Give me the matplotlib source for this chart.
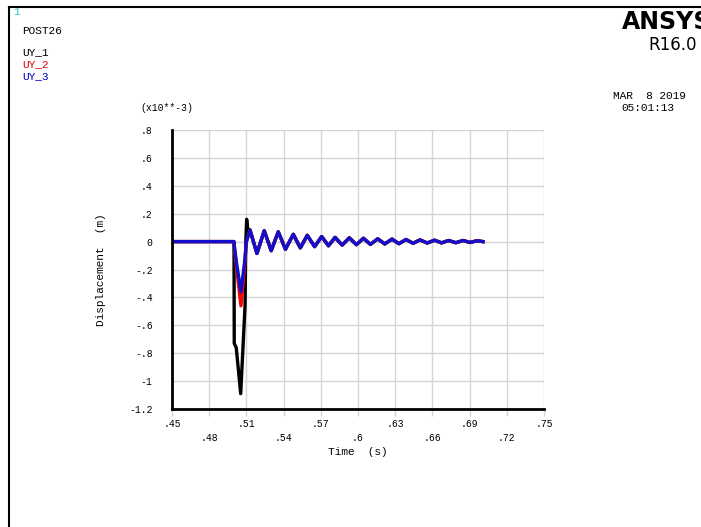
import numpy as np
import matplotlib
matplotlib.use('Agg')
import matplotlib.pyplot as plt
from matplotlib.lines import Line2D

W, H = 701, 527
mono = 'Liberation Mono'

# shared damped ringing after the impact (time in s, value in 1e-3 m)
tail_t = [0.5185, 0.5244, 0.5300, 0.5357, 0.5415, 0.5478, 0.5535, 0.5591, 0.5650,
          0.5707, 0.5762, 0.5815, 0.5872, 0.5930, 0.5987, 0.6044, 0.6100, 0.6159,
          0.6216, 0.6274, 0.6330, 0.6387, 0.6444, 0.6500, 0.6558, 0.6617, 0.6674,
          0.6731, 0.6789, 0.6847, 0.6903, 0.6960, 0.7008]
tail_y = [-0.085, 0.078, -0.065, 0.070, -0.055, 0.052, -0.045, 0.045, -0.036,
          0.036, -0.030, 0.030, -0.025, 0.027, -0.022, 0.024, -0.020, 0.020,
          -0.017, 0.018, -0.015, 0.015, -0.012, 0.012, -0.010, 0.010, -0.009,
          0.008, -0.008, 0.008, -0.006, 0.006, 0.0]

# impact phase per series
uy1_t = [0.45, 0.5000, 0.5002, 0.5018, 0.5054, 0.5089, 0.5095, 0.5102, 0.5112, 0.5129]
uy1_y = [0.0, 0.0, -0.73, -0.76, -1.09, -0.46, 0.0, 0.16, 0.08, 0.085]
uy2_t = [0.45, 0.4998, 0.5020, 0.5056, 0.5085, 0.5100, 0.5129]
uy2_y = [0.0, 0.0, -0.18, -0.46, -0.18, 0.0, 0.082]
uy3_t = [0.45, 0.4998, 0.5020, 0.5056, 0.5085, 0.5100, 0.5129]
uy3_y = [0.0, 0.0, -0.15, -0.36, -0.15, 0.0, 0.082]

xticks = [0.45, 0.48, 0.51, 0.54, 0.57, 0.60, 0.63, 0.66, 0.69, 0.72, 0.75]
xlabels = ['.45', '.48', '.51', '.54', '.57', '.6', '.63', '.66', '.69', '.72', '.75']
yticks = [0.8, 0.6, 0.4, 0.2, 0.0, -0.2, -0.4, -0.6, -0.8, -1.0, -1.2]
ylabels = ['.8', '.6', '.4', '.2', '0', '-.2', '-.4', '-.6', '-.8', '-1', '-1.2']

fig = plt.figure(figsize=(W / 100, H / 100), dpi=100)
fig.patch.set_facecolor('white')


def fx(x):
    return x / W


def fy(y):
    return 1 - y / H


# outer frame
fig.add_artist(Line2D([fx(9), fx(9)], [fy(7), 0], color='black', lw=1.5))
fig.add_artist(Line2D([fx(9), 1], [fy(7), fy(7)], color='black', lw=1.5))

ax = fig.add_axes([fx(172), fy(409), fx(544) - fx(172), fy(130) - fy(409)])
ax.set_xlim(0.45, 0.75)
ax.set_ylim(-1.2, 0.8)

for xv in xticks:
    ax.axvline(xv, color='#d4d4d4', lw=1, zorder=0)
for yv in yticks:
    ax.axhline(yv, color='#d4d4d4', lw=1, zorder=0)

ax.plot(uy1_t + tail_t, uy1_y + tail_y, color='black', lw=2.4, zorder=3)
ax.plot(uy2_t + tail_t, uy2_y + tail_y, color='#ff0000', lw=2.4, zorder=4)
ax.plot(uy3_t + tail_t, uy3_y + tail_y, color='#1010cc', lw=2.4, zorder=5)

for s in ['top', 'right']:
    ax.spines[s].set_visible(False)
for s in ['left', 'bottom']:
    ax.spines[s].set_linewidth(2)
    ax.spines[s].set_color('black')
    ax.spines[s].set_zorder(6)

ax.set_xticks(xticks)
ax.set_xticklabels([])
ax.tick_params(axis='x', length=5, color='#d4d4d4', width=1)
ax.set_yticks(yticks)
ax.set_yticklabels(ylabels, fontfamily=mono, fontsize=7)
ax.tick_params(axis='y', length=0, pad=14)
for lab in ax.get_yticklabels():
    lab.set_horizontalalignment('right')

# x tick labels in two staggered rows
for i, (xv, lab) in enumerate(zip(xticks, xlabels)):
    off = -11 if i % 2 == 0 else -21
    ax.annotate(lab, (xv, -1.2), xytext=(0, off), textcoords='offset points',
                ha='center', va='center', fontfamily=mono, fontsize=7)

fig.text(fx(358), fy(452), 'Time  (s)', ha='center', va='center', fontfamily=mono, fontsize=8)
fig.text(fx(101), fy(270), 'Displacement  (m)', ha='center', va='center', rotation=90,
         fontfamily=mono, fontsize=8)
fig.text(fx(140), fy(108), '(x10**-3)', ha='left', va='center', fontfamily=mono, fontsize=7)

fig.text(fx(13), fy(12), '1', ha='left', va='center', fontfamily=mono, fontsize=8, color='#33cccc')
fig.text(fx(22), fy(31), 'POST26', ha='left', va='center', fontfamily=mono, fontsize=8)
fig.text(fx(22), fy(52), 'UY_1', ha='left', va='center', fontfamily=mono, fontsize=8, color='black')
fig.text(fx(22), fy(64), 'UY_2', ha='left', va='center', fontfamily=mono, fontsize=8, color='#dd0000')
fig.text(fx(22), fy(76), 'UY_3', ha='left', va='center', fontfamily=mono, fontsize=8, color='#0000cc')

fig.text(fx(622), fy(22), 'ANSYS', ha='left', va='center', fontfamily='DejaVu Sans',
         fontweight='bold', fontsize=17)
fig.text(fx(648), fy(45), 'R16.0', ha='left', va='center', fontfamily='DejaVu Sans', fontsize=12)
fig.text(fx(613), fy(96), 'MAR  8 2019', ha='left', va='center', fontfamily=mono, fontsize=8)
fig.text(fx(621), fy(108), '05:01:13', ha='left', va='center', fontfamily=mono, fontsize=8)

fig.savefig('out.png', dpi=100, facecolor='white')
plt.close()
